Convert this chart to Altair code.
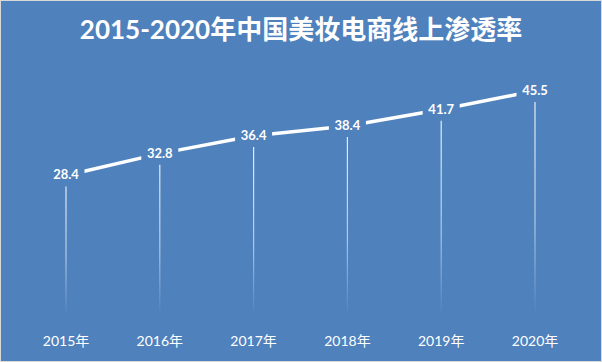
import altair as alt
import pandas as pd

years = ["2015年", "2016年", "2017年", "2018年", "2019年", "2020年"]
values = [28.4, 32.8, 36.4, 38.4, 41.7, 45.5]
title_text = "2015-2020年中国美妆电商线上渗透率"

BG = "#4F81BD"
df = pd.DataFrame({"year": years, "value": values, "label": [f"{v:.1f}" for v in values]})

x = alt.X("year:N", sort=years, axis=None,
          scale=alt.Scale(type="point", domain=years, range=[66, 535], padding=0))
y_scale = alt.Scale(domain=[0, 63.84], range=[316, 0], zero=False, nice=False)

base = alt.Chart(df)

drops = base.mark_bar(
    width=1.2,
    color=alt.Gradient(
        gradient="linear",
        stops=[alt.GradientStop(color="rgba(255,255,255,0.9)", offset=0),
               alt.GradientStop(color="rgba(255,255,255,0.55)", offset=0.6),
               alt.GradientStop(color="rgba(255,255,255,0)", offset=1)],
        x1=0, x2=0, y1=0, y2=1),
).encode(x=x, y=alt.Y("value:Q", scale=y_scale, axis=None), y2=alt.datum(0))

line = base.mark_line(color="white", strokeWidth=3.5).encode(
    x=x, y=alt.Y("value:Q", scale=y_scale, axis=None))

masks = base.mark_point(
    shape="M-1,-0.6H1V0.6H-1Z", filled=True, fill=BG, opacity=1, strokeWidth=0, size=1369
).encode(x=x, y=alt.Y("value:Q", scale=y_scale, axis=None))

labels = base.mark_text(
    color="white", fontWeight="bold", fontSize=13, font="Lato, Noto Sans CJK SC",
    align="center", baseline="middle"
).encode(x=x, y=alt.Y("value:Q", scale=y_scale, axis=None), text="label:N")

xlabels = base.mark_text(
    color="white", fontSize=14, font="Lato, Noto Sans CJK SC",
    align="center", baseline="middle"
).encode(x=x, y=alt.value(342), text="year:N")

title = alt.Chart(pd.DataFrame({"t": [title_text]})).mark_text(
    color="white", fontWeight="bold", fontSize=26, font="Lato, Noto Sans CJK SC",
    align="center", baseline="middle"
).encode(x=alt.value(301), y=alt.value(31), text="t:N")

chart = alt.layer(drops, line, masks, labels, xlabels, title).properties(
    width=602, height=362,
    autosize=alt.AutoSizeParams(type="none"),
    padding=0,
    background=BG,
).configure_view(fill=BG, stroke="#D9D9D9", strokeWidth=2)

chart.save("out.html", embed_options={"renderer": "svg", "actions": False})
